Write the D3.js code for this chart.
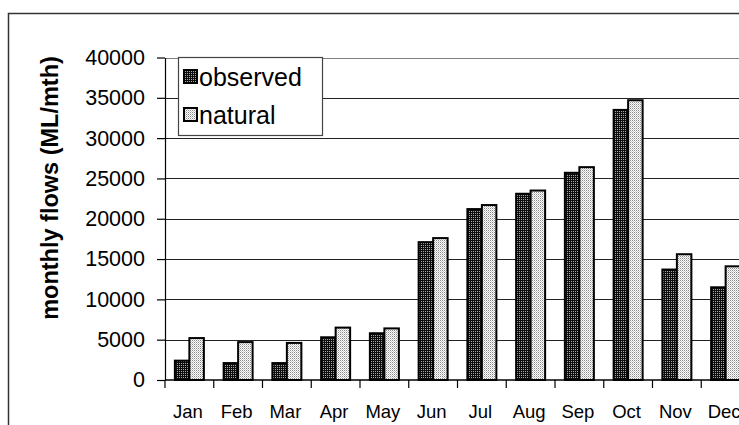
<!DOCTYPE html>
<html>
<head>
<meta charset="utf-8">
<script src="https://cdn.jsdelivr.net/npm/d3@7"></script>
<style>
  html, body { margin: 0; padding: 0; background: #fff; }
  svg { display: block; font-family: Arial, "Liberation Sans", sans-serif; }
</style>
</head>
<body>
<svg id="chart" width="739" height="425"></svg>
<script>
// Monthly flows, ML per month
const months = ["Jan", "Feb", "Mar", "Apr", "May", "Jun", "Jul", "Aug", "Sep", "Oct", "Nov", "Dec"];
const observed = [2400, 2100, 2100, 5300, 5800, 17100, 21200, 23100, 25700, 33500, 13700, 11500];
const natural  = [5200, 4700, 4600, 6500, 6400, 17600, 21700, 23500, 26400, 34700, 15600, 14100];
const yTicks = [0, 5000, 10000, 15000, 20000, 25000, 30000, 35000, 40000];
const seriesNames = ["observed", "natural"];

const svg = d3.select("#chart");

const x = d3.scaleBand().domain(months).range([165, 750]).padding(0);
const y = d3.scaleLinear().domain([0, 40000]).range([380, 57.5]);

// Fill patterns for the two series
const defs = svg.append("defs");
const pObs = defs.append("pattern").attr("id", "pat-observed")
  .attr("patternUnits", "userSpaceOnUse").attr("width", 2).attr("height", 2);
pObs.append("rect").attr("width", 2).attr("height", 2).attr("fill", "#0d0d0d");
pObs.append("rect").attr("x", 1).attr("y", 1).attr("width", 1).attr("height", 1).attr("fill", "#a8a8a8");

const pNat = defs.append("pattern").attr("id", "pat-natural")
  .attr("patternUnits", "userSpaceOnUse").attr("width", 2).attr("height", 2);
pNat.append("rect").attr("width", 2).attr("height", 2).attr("fill", "#fff");
pNat.append("rect").attr("x", 0).attr("y", 0).attr("width", 1).attr("height", 1).attr("fill", "#8a8a8a");
pNat.append("rect").attr("x", 1).attr("y", 1).attr("width", 1).attr("height", 1).attr("fill", "#c8c8c8");

const fills = { observed: "url(#pat-observed)", natural: "url(#pat-natural)" };

// Outer chart frame
svg.append("rect")
  .attr("x", 8.5).attr("y", 13.5).attr("width", 760).attr("height", 430)
  .attr("fill", "none").attr("stroke", "#333").attr("stroke-width", 1.5);

// Horizontal gridlines
svg.append("g").selectAll("line")
  .data(yTicks.filter(d => d > 0))
  .join("line")
  .attr("x1", x.range()[0]).attr("x2", x.range()[1])
  .attr("y1", d => Math.round(y(d)) + 0.5).attr("y2", d => Math.round(y(d)) + 0.5)
  .attr("stroke", d => d === 40000 ? "#808080" : "#222").attr("stroke-width", 1.2);

// Bars
const inner = d3.scaleBand().domain(seriesNames).range([0, 29]).padding(0);
const barData = months.flatMap((m, i) => [
  { m, key: "observed", v: observed[i] },
  { m, key: "natural", v: natural[i] }
]);
const groupOffset = (x.bandwidth() - 29) / 2;
svg.append("g").selectAll("rect")
  .data(barData)
  .join("rect")
  .attr("x", d => x(d.m) + groupOffset + inner(d.key))
  .attr("y", d => y(d.v))
  .attr("width", inner.bandwidth())
  .attr("height", d => y(0) - y(d.v))
  .attr("fill", d => fills[d.key])
  .attr("stroke", "#000").attr("stroke-width", 2);

// Y axis
const yAxis = svg.append("g")
  .attr("transform", `translate(${x.range()[0]},0)`)
  .call(d3.axisLeft(y).tickValues(yTicks).tickFormat(d3.format("d")).tickSize(8).tickSizeOuter(0).tickPadding(12));
yAxis.select(".domain").attr("stroke", "#000").attr("stroke-width", 1.2);
yAxis.selectAll(".tick line").attr("stroke", "#000").attr("stroke-width", 1.2);
yAxis.selectAll("text").attr("font-size", 21.5).attr("fill", "#000")
  .attr("font-family", "Arial, 'Liberation Sans', sans-serif");

// X axis: baseline, tick marks at category boundaries, labels
svg.append("line")
  .attr("x1", x.range()[0]).attr("x2", x.range()[1])
  .attr("y1", y(0)).attr("y2", y(0))
  .attr("stroke", "#000").attr("stroke-width", 1.5);
svg.append("g").selectAll("line")
  .data(months)
  .join("line")
  .attr("x1", d => x(d)).attr("x2", d => x(d))
  .attr("y1", y(0)).attr("y2", y(0) + 8)
  .attr("stroke", "#000").attr("stroke-width", 1.2);
svg.append("g").selectAll("text")
  .data(months)
  .join("text")
  .attr("x", d => x(d) + x.bandwidth() / 2 - 1.5)
  .attr("y", 418)
  .attr("text-anchor", "middle")
  .attr("font-size", 18.5)
  .text(d => d);

// Y axis title
svg.append("text")
  .attr("transform", "translate(58,188) rotate(-90)")
  .attr("text-anchor", "middle")
  .attr("font-size", 23.5)
  .attr("font-weight", "bold")
  .text("monthly flows (ML/mth)");

// Legend
const legend = svg.append("g");
legend.append("rect")
  .attr("x", 178.5).attr("y", 57.5).attr("width", 144).attr("height", 78)
  .attr("fill", "#fff").attr("stroke", "#444").attr("stroke-width", 1.2);
seriesNames.forEach((name, i) => {
  const cy = 77 + i * 38;
  legend.append("rect")
    .attr("x", 184).attr("y", cy - 7).attr("width", 13).attr("height", 13)
    .attr("fill", fills[name]).attr("stroke", "#000").attr("stroke-width", 2);
  legend.append("text")
    .attr("x", 199).attr("y", cy + 9)
    .attr("font-size", 25)
    .text(name);
});
</script>
</body>
</html>
